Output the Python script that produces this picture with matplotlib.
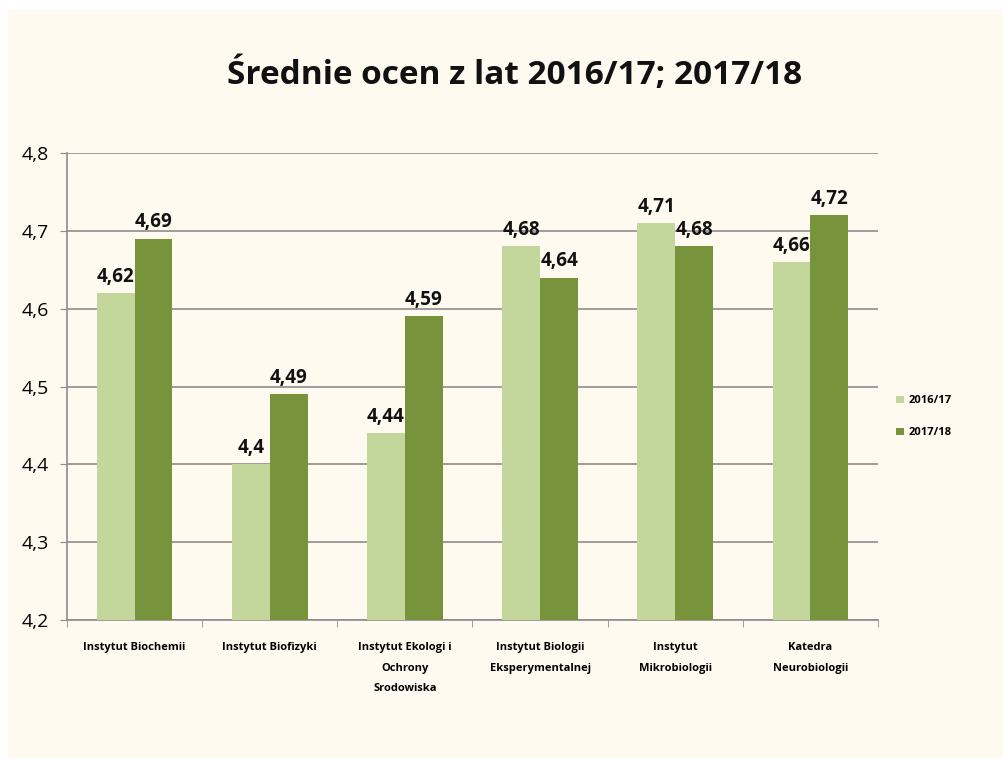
import numpy as np
import matplotlib.pyplot as plt
from matplotlib.patches import Rectangle

# categories and values
categories = ['Instytut Biochemii', 'Instytut Biofizyki', 'Instytut Ekologi i\nOchrony\nSrodowiska',
              'Instytut Biologii\nEksperymentalnej', 'Instytut\nMikrobiologii', 'Katedra\nNeurobiologii']
avg_2016 = [4.62, 4.40, 4.44, 4.68, 4.71, 4.66]
avg_2017 = [4.69, 4.49, 4.59, 4.64, 4.68, 4.72]
series_names = ['2016/17', '2017/18']

light = '#C3D69B'
dark = '#77933C'
bg = '#FEFAF0'

plt.rcParams['font.family'] = ['Open Sans', 'DejaVu Sans']

fig = plt.figure(figsize=(10.04, 7.58), dpi=100, facecolor=bg)
# white strips along top and left edge
fig.patches.append(Rectangle((0, 1 - 9 / 758), 1, 9 / 758, transform=fig.transFigure, color='white', zorder=0))
fig.patches.append(Rectangle((0, 0), 7 / 1004, 1, transform=fig.transFigure, color='white', zorder=0))

ax = fig.add_axes([67 / 1004, 1 - 620 / 758, (878 - 67) / 1004, (620 - 153) / 758])
ax.set_facecolor(bg)

x = np.arange(len(categories))
w = 0.28
b1 = ax.bar(x - w / 2, avg_2016, w, color=light, label=series_names[0], zorder=3)
b2 = ax.bar(x + w / 2, avg_2017, w, color=dark, label=series_names[1], zorder=3)

for bars in (b1, b2):
    for r in bars:
        v = r.get_height()
        ax.text(r.get_x() + r.get_width() / 2, v + 0.008, f'{v:g}'.replace('.', ','),
                ha='center', va='bottom', fontsize=13.5, fontweight='bold', color='#111111', zorder=4)

ax.set_xlim(-0.5, len(categories) - 0.5)
ax.set_ylim(4.2, 4.8)
yt = np.arange(4.2, 4.81, 0.1)
ax.set_yticks(yt)
ax.set_yticklabels([f'{v:.1f}'.replace('.', ',') for v in yt], fontsize=14)
ax.yaxis.grid(True, color='#8c8c8c', linewidth=1.2, zorder=0)
ax.tick_params(axis='y', length=5, color='#8c8c8c', pad=8)

ax.set_xticks(np.arange(-0.5, len(categories), 1), minor=True)
ax.set_xticks(x)
ax.set_xticklabels(categories, fontsize=8, fontweight='bold', linespacing=2.2)
ax.tick_params(axis='x', which='major', length=0, pad=16)
ax.tick_params(axis='x', which='minor', length=5, color='#8c8c8c')

for s in ['top', 'right']:
    ax.spines[s].set_visible(False)
for s in ['left', 'bottom']:
    ax.spines[s].set_color('#8c8c8c')
    ax.spines[s].set_linewidth(1.2)

fig.text(515 / 1004, 1 - 75 / 758, 'Średnie ocen z lat 2016/17; 2017/18', ha='center', va='center',
         fontsize=24, fontweight='bold', color='#111111')

ax.legend(loc='center left', bbox_to_anchor=(1.01, 0.435), frameon=False,
          handlelength=0.7, handleheight=0.7, handletextpad=0.4, labelspacing=1.9,
          prop={'weight': 'bold', 'size': 8})

fig.savefig('out.png', dpi=100, facecolor=bg)
